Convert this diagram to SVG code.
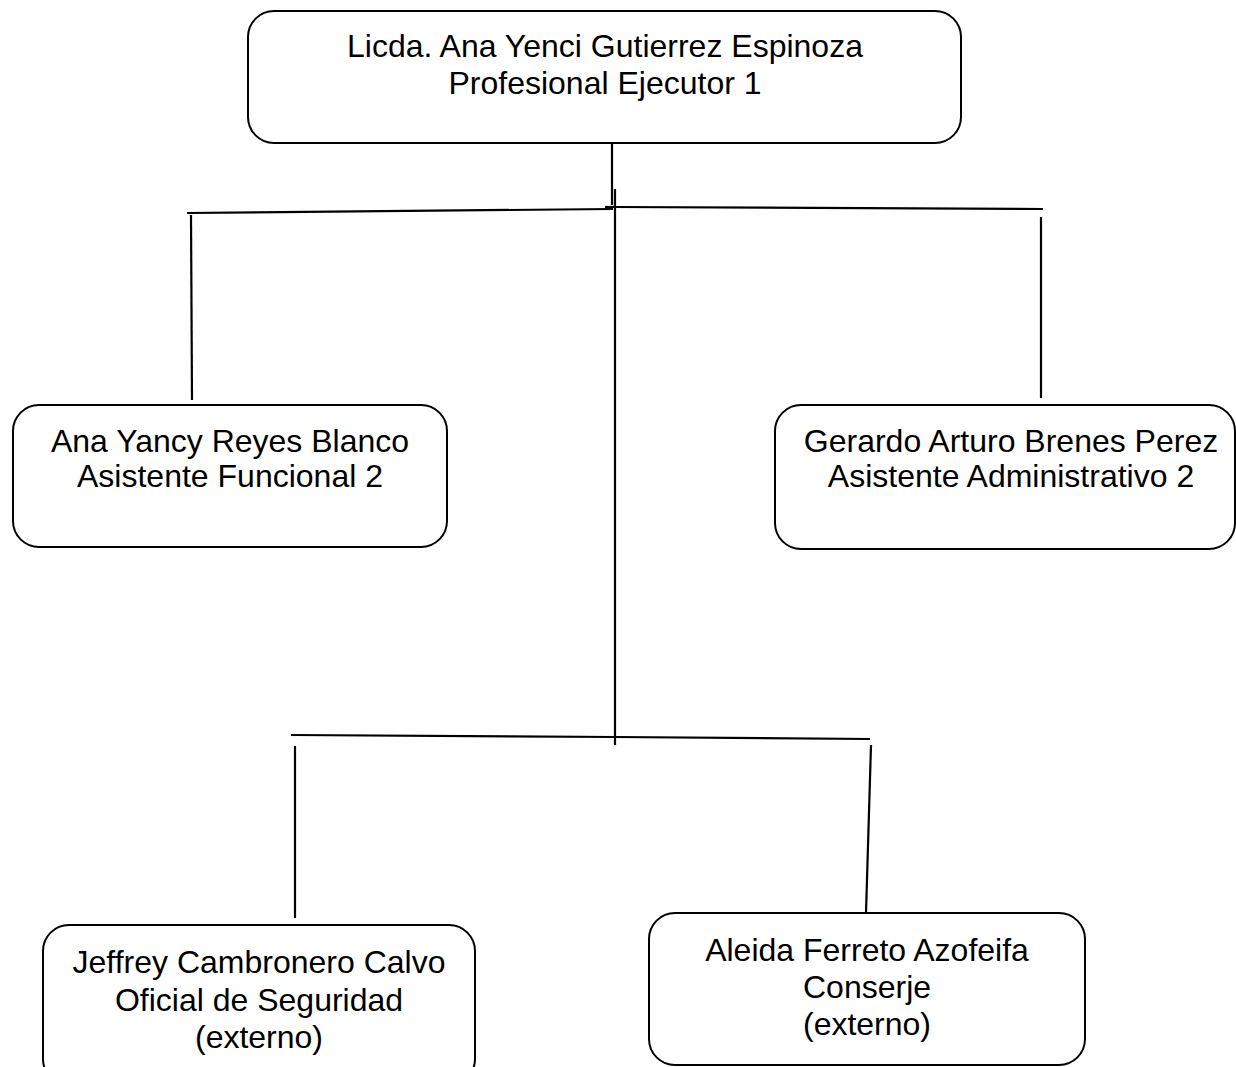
<svg xmlns="http://www.w3.org/2000/svg" width="1236" height="1067" viewBox="0 0 1236 1067">
<style>
.box{fill:#fff;stroke:#000;stroke-width:2}
.t{font-family:"Liberation Sans",Arial,sans-serif;font-size:32px;fill:#000;text-anchor:middle}
.c{stroke:#000;stroke-width:2.2;fill:none}
</style>
<rect width="1236" height="1067" fill="#fff"/>
<g id="connectors">
<line class="c" x1="612" y1="143" x2="612" y2="205"/>
<line class="c" x1="615" y1="189" x2="615" y2="745"/>
<line class="c" x1="187" y1="213" x2="613" y2="209"/>
<line class="c" x1="605" y1="207" x2="615" y2="207"/>
<line class="c" x1="613" y1="207" x2="1043" y2="209"/>
<line class="c" x1="191" y1="215" x2="192" y2="400"/>
<line class="c" x1="1041" y1="217" x2="1041" y2="398"/>
<line class="c" x1="291" y1="735" x2="615" y2="737"/>
<line class="c" x1="615" y1="737" x2="870" y2="739"/>
<line class="c" x1="295" y1="746" x2="295" y2="918"/>
<line class="c" x1="871" y1="745" x2="866" y2="913"/>
</g>
<g id="n_top">
<rect class="box" x="248" y="11" width="713" height="132" rx="26"/>
<text class="t" x="605" y="57">Licda. Ana Yenci Gutierrez Espinoza</text>
<text class="t" x="605" y="94">Profesional Ejecutor 1</text>
</g>
<g id="n_ana">
<rect class="box" x="13" y="405" width="434" height="142" rx="26"/>
<text class="t" x="230" y="452">Ana Yancy Reyes Blanco</text>
<text class="t" x="230" y="487">Asistente Funcional 2</text>
</g>
<g id="n_gerardo">
<rect class="box" x="775" y="405" width="460" height="144" rx="26"/>
<text class="t" x="1011" y="452">Gerardo Arturo Brenes Perez</text>
<text class="t" x="1011" y="487">Asistente Administrativo 2</text>
</g>
<g id="n_jeffrey">
<rect class="box" x="43" y="925" width="432" height="160" rx="26"/>
<text class="t" x="259" y="973">Jeffrey Cambronero Calvo</text>
<text class="t" x="259" y="1011">Oficial de Seguridad</text>
<text class="t" x="259" y="1048">(externo)</text>
</g>
<g id="n_aleida">
<rect class="box" x="649" y="913" width="436" height="152" rx="26"/>
<text class="t" x="867" y="961">Aleida Ferreto Azofeifa</text>
<text class="t" x="867" y="998">Conserje</text>
<text class="t" x="867" y="1035">(externo)</text>
</g>
</svg>
